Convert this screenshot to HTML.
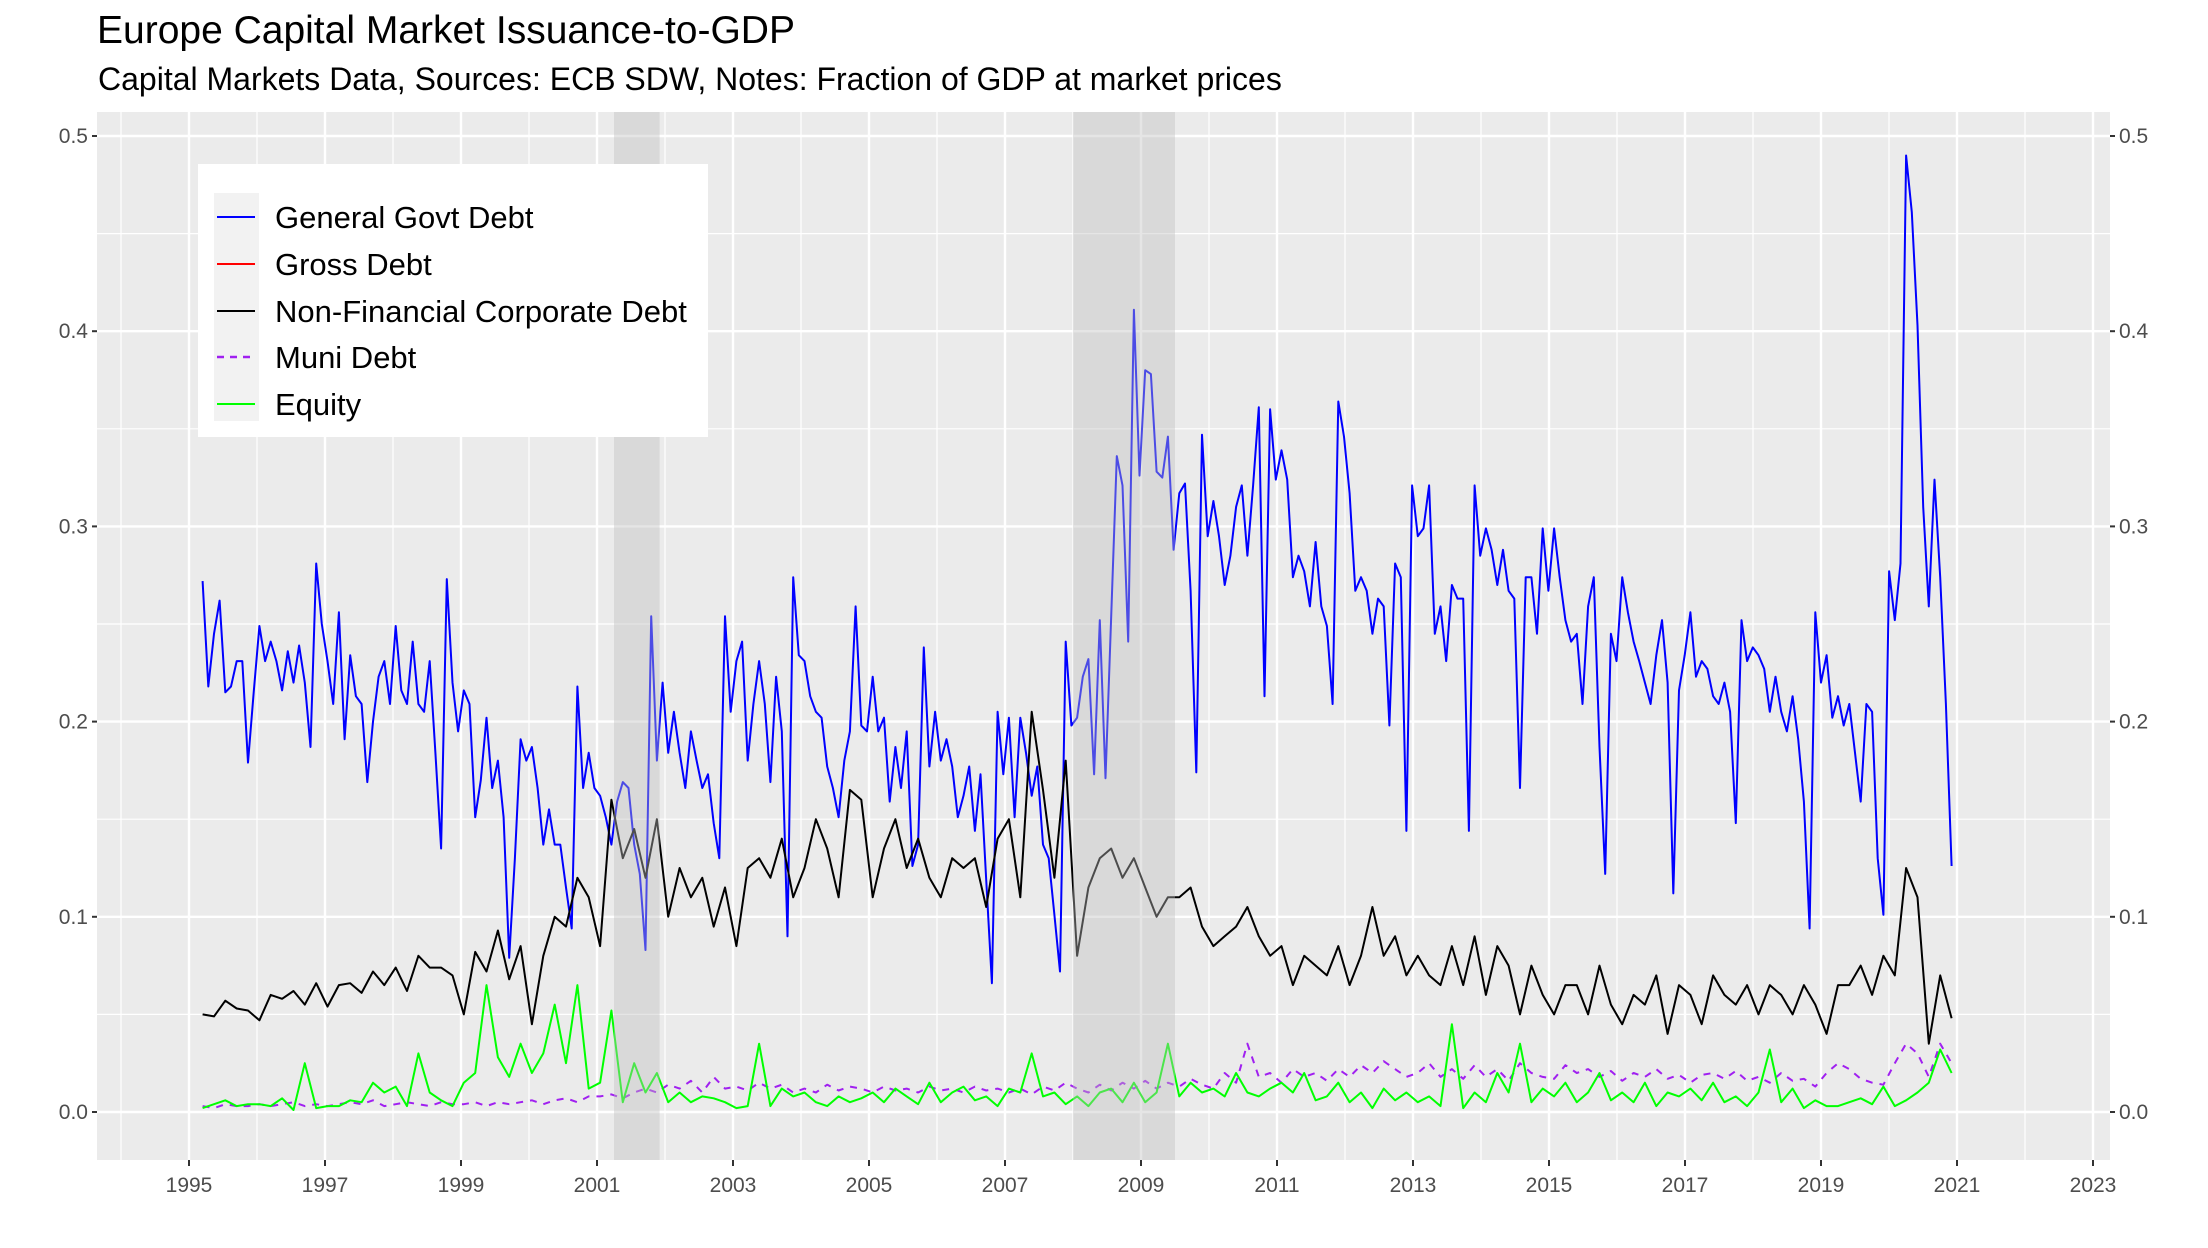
<!DOCTYPE html>
<html><head><meta charset="utf-8"><style>
html,body{margin:0;padding:0;background:#fff;}
svg{display:block;font-family:"Liberation Sans",Arial,sans-serif;}
</style></head><body>
<svg id="chart" width="2208" height="1248" viewBox="0 0 2208 1248" xmlns="http://www.w3.org/2000/svg">
<text x="97" y="43" font-size="39" fill="#000">Europe Capital Market Issuance-to-GDP</text>
<text x="98" y="90" font-size="32" fill="#000">Capital Markets Data, Sources: ECB SDW, Notes: Fraction of GDP at market prices</text>
<rect x="97" y="112" width="2013" height="1048" fill="#ebebeb"/>
<g id="grid"></g>
<g id="series"></g>
<g id="shade"></g>
<g id="axes"></g>
<g>
<rect x="198" y="164" width="510" height="273" fill="#fff"/>
<rect x="214" y="193" width="45" height="228" fill="#f2f2f2"/>
<g><line x1="217" x2="255" y1="217" y2="217" stroke="#0000ff" stroke-width="2"/><text x="275" y="228" font-size="31">General Govt Debt</text></g>
<g><line x1="217" x2="255" y1="264" y2="264" stroke="#ff0000" stroke-width="2"/><text x="275" y="275" font-size="31">Gross Debt</text></g>
<g><line x1="217" x2="255" y1="311" y2="311" stroke="#000" stroke-width="2"/><text x="275" y="322" font-size="31">Non-Financial Corporate Debt</text></g>
<g><line x1="217" x2="255" y1="357" y2="357" stroke="#a020f0" stroke-width="2.5" stroke-dasharray="7,6"/><text x="275" y="368" font-size="31">Muni Debt</text></g>
<g><line x1="217" x2="255" y1="404" y2="404" stroke="#00ff00" stroke-width="2"/><text x="275" y="415" font-size="31">Equity</text></g>
</g>
</svg>
<script>
const startYear = 1995.2;
const endYear = 2020.92;
const govtValues = [.272,.218,.245,.262,.215,.218,.231,.231,.179,.215,.249,.231,.241,.231,.216,.236,.220,.239,.220,.187,.281,.25,.231,.209,.256,.191,.234,.213,.209,.169,.20,.223,.231,.209,.249,.216,.209,.241,.209,.205,.231,.184,.135,.273,.22,.195,.216,.209,.151,.17,.202,.166,.180,.151,.079,.130,.191,.180,.187,.166,.137,.155,.137,.137,.115,.094,.218,.166,.184,.166,.162,.151,.137,.159,.169,.166,.137,.122,.083,.254,.180,.220,.184,.205,.184,.166,.195,.180,.166,.173,.148,.130,.254,.205,.231,.241,.180,.209,.231,.209,.169,.223,.195,.090,.274,.234,.231,.213,.205,.202,.177,.166,.151,.180,.195,.259,.198,.195,.223,.195,.202,.159,.187,.166,.195,.126,.137,.238,.177,.205,.180,.191,.177,.151,.162,.177,.144,.173,.119,.066,.205,.173,.202,.151,.202,.184,.162,.177,.137,.130,.101,.072,.241,.198,.202,.223,.232,.173,.252,.171,.254,.336,.321,.241,.411,.326,.380,.378,.328,.325,.346,.288,.317,.322,.267,.174,.347,.295,.313,.295,.270,.285,.310,.321,.285,.321,.361,.213,.360,.324,.339,.324,.274,.285,.277,.259,.292,.259,.249,.209,.364,.346,.317,.267,.274,.267,.245,.263,.259,.198,.281,.274,.144,.321,.295,.299,.321,.245,.259,.231,.270,.263,.263,.144,.321,.285,.299,.288,.270,.288,.267,.263,.166,.274,.274,.245,.299,.267,.299,.274,.252,.241,.245,.209,.259,.274,.187,.122,.245,.231,.274,.256,.241,.231,.220,.209,.234,.252,.220,.112,.216,.234,.256,.223,.231,.227,.213,.209,.220,.205,.148,.252,.231,.238,.234,.227,.205,.223,.205,.195,.213,.191,.159,.094,.256,.220,.234,.202,.213,.198,.209,.184,.159,.209,.205,.130,.101,.277,.252,.281,.490,.461,.403,.310,.259,.324,.274,.209,.126];
const nfcValues = [.050,.049,.057,.053,.052,.047,.060,.058,.062,.055,.066,.054,.065,.066,.061,.072,.065,.074,.062,.080,.074,.074,.070,.050,.082,.072,.093,.068,.085,.045,.080,.100,.095,.120,.110,.085,.160,.130,.145,.120,.150,.100,.125,.110,.120,.095,.115,.085,.125,.130,.120,.140,.110,.125,.150,.135,.110,.165,.160,.110,.135,.150,.125,.140,.120,.110,.130,.125,.130,.105,.140,.150,.110,.205,.165,.120,.180,.080,.115,.130,.135,.120,.130,.115,.100,.110,.110,.115,.095,.085,.090,.095,.105,.090,.080,.085,.065,.080,.075,.070,.085,.065,.080,.105,.080,.090,.070,.080,.070,.065,.085,.065,.090,.060,.085,.075,.050,.075,.060,.050,.065,.065,.050,.075,.055,.045,.060,.055,.070,.040,.065,.060,.045,.070,.060,.055,.065,.050,.065,.060,.050,.065,.055,.040,.065,.065,.075,.060,.080,.070,.125,.110,.035,.070,.048];
const muniValues = [.003,.002,.004,.003,.003,.004,.003,.004,.005,.003,.004,.003,.004,.005,.004,.006,.003,.004,.005,.004,.003,.005,.004,.004,.005,.003,.005,.004,.005,.006,.004,.006,.007,.005,.008,.008,.009,.007,.010,.012,.010,.014,.012,.016,.010,.018,.012,.013,.011,.015,.012,.014,.010,.012,.010,.014,.011,.013,.012,.010,.013,.011,.012,.010,.013,.011,.012,.010,.013,.011,.012,.010,.012,.009,.013,.011,.015,.012,.010,.014,.011,.015,.012,.016,.012,.015,.013,.017,.014,.012,.020,.015,.035,.018,.020,.015,.022,.018,.020,.016,.022,.018,.024,.020,.026,.022,.018,.020,.025,.018,.022,.017,.024,.018,.022,.016,.025,.020,.018,.017,.024,.020,.022,.018,.021,.016,.020,.018,.022,.017,.019,.015,.019,.020,.017,.021,.016,.018,.015,.020,.016,.017,.013,.020,.025,.022,.017,.015,.014,.025,.035,.030,.018,.035,.025];
const equityValues = [.002,.004,.006,.003,.004,.004,.003,.007,.001,.025,.002,.003,.003,.006,.005,.015,.010,.013,.003,.030,.010,.006,.003,.015,.020,.065,.028,.018,.035,.020,.030,.055,.025,.065,.012,.015,.052,.005,.025,.010,.020,.005,.010,.005,.008,.007,.005,.002,.003,.035,.003,.012,.008,.010,.005,.003,.008,.005,.007,.010,.005,.012,.008,.004,.015,.005,.010,.013,.006,.008,.003,.012,.010,.030,.008,.010,.004,.008,.003,.010,.012,.005,.015,.005,.010,.035,.008,.015,.010,.012,.008,.020,.010,.008,.012,.015,.010,.020,.006,.008,.015,.005,.010,.002,.012,.006,.010,.005,.008,.003,.045,.002,.010,.005,.020,.010,.035,.005,.012,.008,.015,.005,.010,.020,.006,.010,.005,.015,.003,.010,.008,.012,.006,.015,.005,.008,.003,.010,.032,.005,.012,.002,.006,.003,.003,.005,.007,.004,.013,.003,.006,.010,.015,.032,.020];
const recessionStarts = [2001.25, 2008.0];
const recessionEnds = [2001.92, 2009.5];
const yTicks = [0, 0.1, 0.2, 0.3, 0.4, 0.5];
const yTickLabels = ["0.0","0.1","0.2","0.3","0.4","0.5"];
const xTicks = [1995,1997,1999,2001,2003,2005,2007,2009,2011,2013,2015,2017,2019,2021,2023];

const NS = "http://www.w3.org/2000/svg";
const PL = 97, PR = 2110, PT = 112, PB = 1160;
function xs(yr){ return 189 + (yr - 1995) * 68; }
function ys(v){ return 1112 - v * 1952; }
function mk(tag, attrs, parent){ const e = document.createElementNS(NS, tag); for (const k in attrs) e.setAttribute(k, attrs[k]); parent.appendChild(e); return e; }

const grid = document.getElementById('grid');
for (let yr = 1994; yr <= 2022; yr += 2) {
  const l = mk('line', {x1: xs(yr), x2: xs(yr), y1: PT, y2: PB, stroke: '#fff', 'stroke-width': 1.2}, grid);
  
  
}
for (let i = 0; i < 10; i++) {
  const v = 0.05 + i * 0.1;
  if (ys(v) < PT) continue;
  const l = mk('line', {x1: PL, x2: PR, y1: ys(v), y2: ys(v), stroke: '#fff', 'stroke-width': 1.2}, grid);
  
  
}
xTicks.forEach(yr => {
  const l = mk('line', {x1: xs(yr), x2: xs(yr), y1: PT, y2: PB, stroke: '#fff', 'stroke-width': 2.4}, grid);
  
  
});
yTicks.forEach(v => {
  const l = mk('line', {x1: PL, x2: PR, y1: ys(v), y2: ys(v), stroke: '#fff', 'stroke-width': 2.4}, grid);
  
  
});

const series = document.getElementById('series');
function drawLine(vals, color, name, dash){
  const n = vals.length;
  const pts = vals.map((v, i) => xs(startYear + i * (endYear - startYear) / (n - 1)).toFixed(1) + ',' + ys(v).toFixed(1)).join(' ');
  const p = mk('polyline', {points: pts, fill: 'none', stroke: color, 'stroke-width': 2, 'stroke-linejoin': 'round'}, series);
  if (dash) p.setAttribute('stroke-dasharray', dash);
  
  
}
drawLine(govtValues, '#0000ff', 'govt-debt-line');
drawLine(nfcValues, '#000000', 'nfc-debt-line');
drawLine(muniValues, '#a020f0', 'muni-debt-line', '7,7');
drawLine(equityValues, '#00ff00', 'equity-line');

const shade = document.getElementById('shade');
recessionStarts.forEach((s, i) => {
  const r = mk('rect', {x: xs(s), y: PT, width: xs(recessionEnds[i]) - xs(s), height: PB - PT, fill: '#bdbdbd', 'fill-opacity': 0.4}, shade);
  
  
});

const axes = document.getElementById('axes');
yTicks.forEach((v, i) => {
  const y = ys(v);
  mk('line', {x1: PL - 5, x2: PL, y1: y, y2: y, stroke: '#333', 'stroke-width': 2}, axes);
  mk('line', {x1: PR, x2: PR + 5, y1: y, y2: y, stroke: '#333', 'stroke-width': 2}, axes);
  const t = mk('text', {x: PL - 9, y: y + 7, 'text-anchor': 'end', 'font-size': 21, fill: '#4d4d4d'}, axes);
  t.textContent = yTickLabels[i];
  
  
  const t2 = mk('text', {x: PR + 9, y: y + 7, 'font-size': 21, fill: '#4d4d4d'}, axes);
  t2.textContent = yTickLabels[i];
  
  
});
xTicks.forEach(yr => {
  const x = xs(yr);
  mk('line', {x1: x, x2: x, y1: PB, y2: PB + 6, stroke: '#333', 'stroke-width': 2}, axes);
  const t = mk('text', {x: x, y: PB + 32, 'text-anchor': 'middle', 'font-size': 21, fill: '#4d4d4d'}, axes);
  t.textContent = String(yr);
  
  
});
</script>
</body></html>
